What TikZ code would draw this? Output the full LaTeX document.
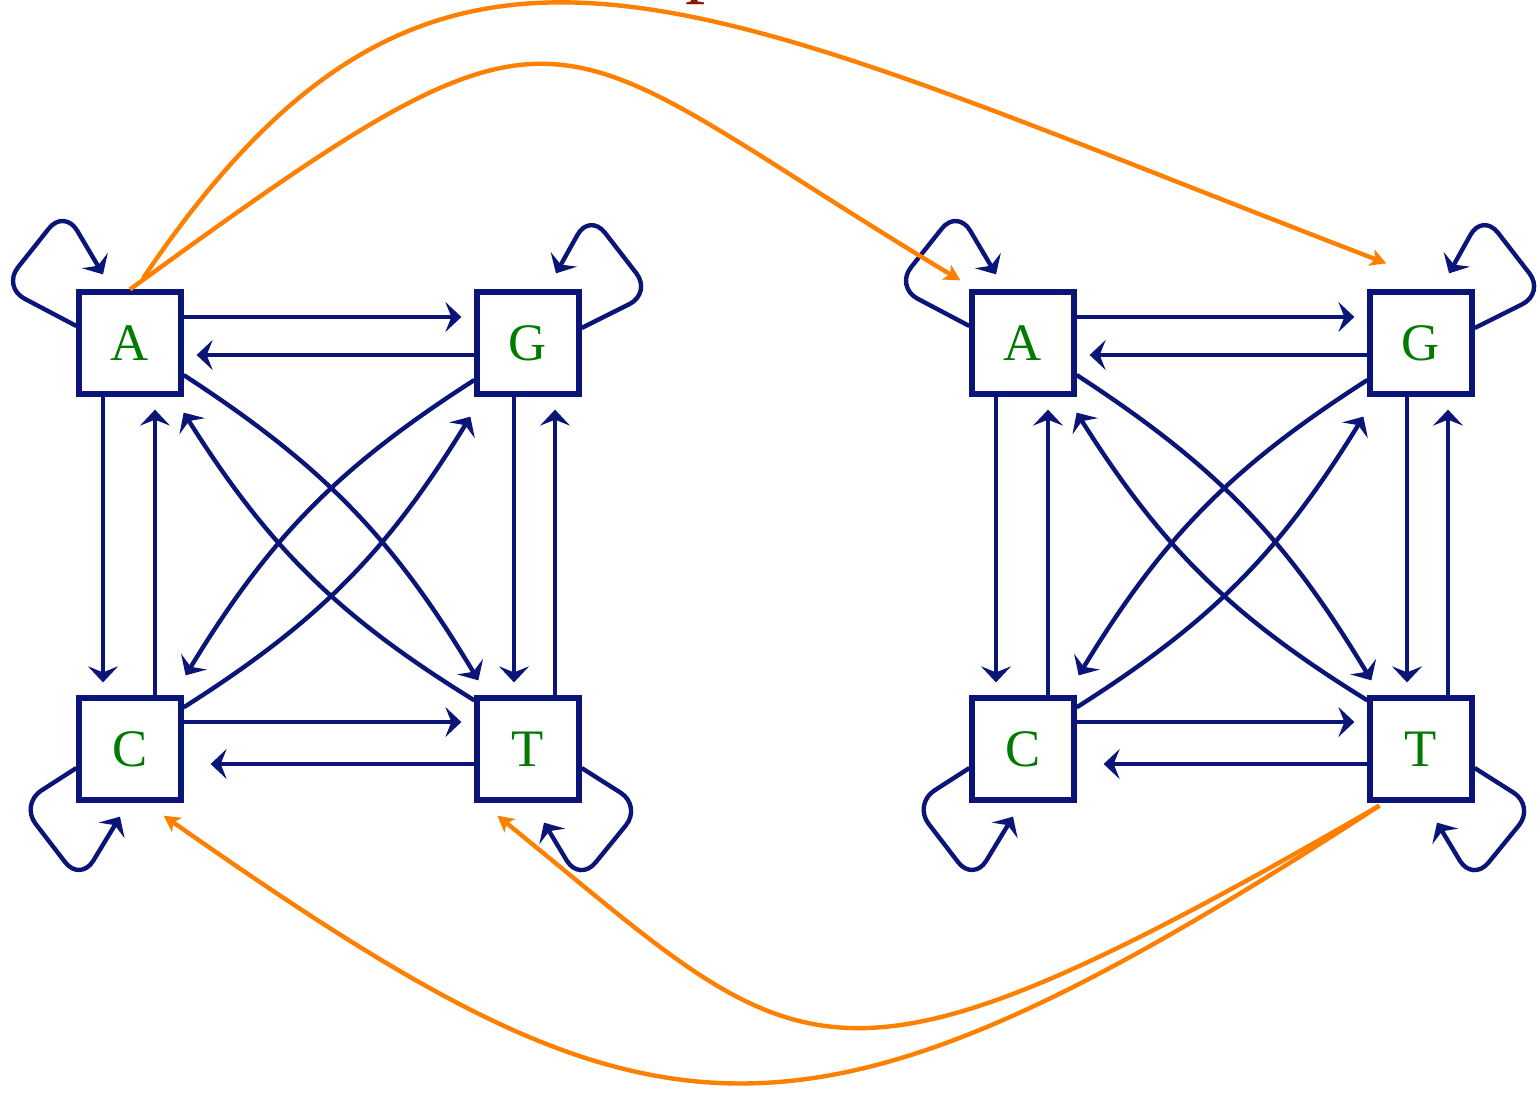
\documentclass[tikz,border=0pt]{standalone}
\usepackage{fontspec}
\setmainfont{Liberation Serif}
\usetikzlibrary{arrows.meta, positioning, calc}
\definecolor{NavyLine}{HTML}{0B1577}
\definecolor{BaseGreen}{HTML}{007A00}
\definecolor{SwitchOrange}{HTML}{FF8000}
\definecolor{TitleRed}{HTML}{8B1500}

\begin{document}
\begin{tikzpicture}[
    base/.style={draw=NavyLine, fill=white, line width=1.5pt, minimum size=1.02cm, inner sep=0pt,
      text=BaseGreen, font=\fontsize{15}{18}\selectfont},
    trans/.style={-{Stealth[length=1.6mm, width=3mm, inset=0.6mm]}, line width=1.25pt, color=NavyLine, shorten >=1.3mm},
    selfloop/.style={-{Stealth[length=1.6mm, width=3mm, inset=0.6mm]}, line width=1.25pt, color=NavyLine, rounded corners=2.5mm},
    switch/.style={-{Stealth[length=1.6mm, width=1.7mm, inset=0.4mm]}, line width=1.25pt, color=SwitchOrange}]
  \useasboundingbox (0,0) rectangle (15.37,10.93);

  \node[anchor=base west, inner sep=0pt, text=TitleRed, font=\fontsize{23}{28}\selectfont] (title) at (6.85,11.05) {p};

  \foreach \g/\x in {l/0, r/8.93} {
    % the four bases
    \node[base] (\g A) at (1.30+\x, 7.50) {A};
    \node[base] (\g G) at (5.28+\x, 7.50) {G};
    \node[base] (\g C) at (1.30+\x, 3.44) {C};
    \node[base] (\g T) at (5.28+\x, 3.44) {T};

    % straight transitions
    \draw[trans] ([yshift=2.6mm]\g A.east) -- ([yshift=2.6mm]\g G.west);
    \draw[trans] ([yshift=-1.2mm]\g G.west) -- ([yshift=-1.2mm]\g A.east);
    \draw[trans] ([xshift=-2.7mm]\g A.south) -- ([xshift=-2.7mm]\g C.north);
    \draw[trans] ([xshift=2.5mm]\g C.north) -- ([xshift=2.5mm]\g A.south);
    \draw[trans] ([xshift=-1.4mm]\g G.south) -- ([xshift=-1.4mm]\g T.north);
    \draw[trans] ([xshift=2.7mm]\g T.north) -- ([xshift=2.7mm]\g G.south);
    \draw[trans] ([yshift=2.7mm]\g C.east) -- ([yshift=2.7mm]\g T.west);
    \draw[trans, shorten >=2.7mm] ([yshift=-1.5mm]\g T.west) -- ([yshift=-1.5mm]\g C.east);

    % diagonals
    \draw[trans, shorten >=0pt] ([yshift=-3.2mm]\g A.east) to[bend left=13] ([xshift=0.4mm, yshift=1.5mm]\g T.north west);
    \draw[trans, shorten >=0pt] ([yshift=-0.5mm]\g T.north west) to[bend left=13] ([yshift=-1.6mm]\g A.south east);
    \draw[trans, shorten >=0pt] ([yshift=-3.7mm]\g G.west) to[bend right=13] ([xshift=0.2mm, yshift=2mm]\g C.north east);
    \draw[trans, shorten >=0pt] ([yshift=-1.2mm]\g C.north east) to[bend right=13] ([xshift=-0.4mm, yshift=-2mm]\g G.south west);

    % self loops
    \draw[selfloop] ([yshift=1.7mm]\g A.west) -- ++(-0.74,0.39) -- ++(0.62,0.78) -- ([xshift=-2.7mm, yshift=1.5mm]\g A.north);
    \draw[selfloop] ([yshift=1.5mm]\g G.east) -- ++(0.70,0.35) -- ++(-0.62,0.80) -- ([xshift=2.8mm, yshift=1.6mm]\g G.north);
    \draw[selfloop] ([yshift=-1.9mm]\g C.west) -- ++(-0.56,-0.36) -- ++(0.60,-0.78) -- ([xshift=-1mm, yshift=-1.4mm]\g C.south);
    \draw[selfloop] ([yshift=-1.9mm]\g T.east) -- ++(0.60,-0.38) -- ++(-0.62,-0.76) -- ([xshift=1.6mm, yshift=-2mm]\g T.south);
  }

  % switches between the two blocks
  \draw[switch] ([xshift=1.3mm, yshift=1.1mm]lA.north) .. controls +(56:5.3) and +(159:7.5) .. ([xshift=1.9mm, yshift=2.6mm]rG.north west);
  \draw[switch] (lA.north) .. controls +(36:5.6) and +(149:5) .. ([xshift=-0.9mm, yshift=0.9mm]rA.north west);
  \draw[switch] ([xshift=1.2mm, yshift=-0.3mm]rT.south west) .. controls +(210:6.5) and +(-39:4) .. ([xshift=2.3mm, yshift=-1.3mm]lT.south west);
  \draw[switch] ([xshift=1.2mm, yshift=-0.3mm]rT.south west) .. controls +(213:7) and +(-35:6) .. ([xshift=-2mm, yshift=-1.3mm]lC.south east);
\end{tikzpicture}
\end{document}
